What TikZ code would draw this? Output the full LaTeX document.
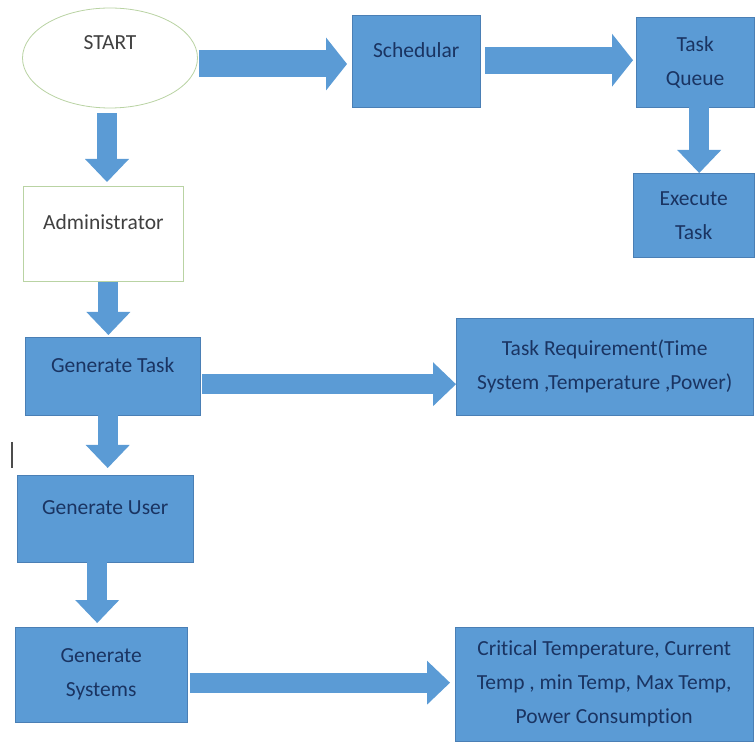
\documentclass[tikz,border=0pt]{standalone}
\usepackage{fontspec}
\setmainfont{Carlito}[Ligatures={NoCommon}]
\usetikzlibrary{arrows.meta,calc,shapes.geometric}
\definecolor{boxbl}{HTML}{5B9BD5}
\definecolor{boxln}{HTML}{4A7FB5}
\definecolor{txt}{HTML}{1A3462}
\definecolor{pale}{HTML}{B9D3A3}
\tikzset{
  blk/.style  ={draw=boxln, fill=boxbl, rectangle, align=center, inner sep=3pt,
                text=txt, font=\fontsize{21.5}{34}\selectfont, anchor=north west},
  blkw/.style ={blk, draw=pale, line width=0.8pt, fill=white, text=black!75},
  hi/.style   ={text depth=23pt},
  barr/.style ={draw=boxbl, line width=20pt,
                -{Triangle[length=23pt, width=44pt, line width=0pt]}},
  barrw/.style={barr, line width=27pt,
                -{Triangle[length=21pt, width=53pt, line width=0pt]}},
}
\begin{document}
\begin{tikzpicture}[x=1pt,y=-1pt]
\useasboundingbox (0,0) rectangle (756,743);
% top row
\node[draw=pale, line width=0.8pt, fill=white, ellipse, minimum width=175pt,
  minimum height=100pt, text=black!75, text depth=31pt,
  font=\fontsize{21.5}{34}\selectfont] (start) at (110,58) {START};
\node[blk, hi, minimum width=128pt, minimum height=92pt] (sched) at (352,15) {Schedular};
\node[blk, minimum width=118pt, minimum height=90pt] (queue) at (636,17) {Task\\Queue};
\node[blk, minimum width=121pt, minimum height=84pt] (exec) at (633,173) {Execute\\Task};
% left column
\node[blkw, hi, minimum width=160pt, minimum height=95pt] (admin) at (23,186) {Administrator};
\node[blk, hi, minimum width=175pt, minimum height=78pt] (gtask) at (25,337) {Generate Task};
\node[blk, hi, minimum width=176pt, minimum height=87pt] (guser) at (17,475) {Generate User};
\node[blk, minimum width=172pt, minimum height=95pt] (gsys) at (15,627) {Generate\\Systems};
% right column
\node[blk, minimum width=297pt, minimum height=97pt] (treq) at (456,318)
  {Task Requirement(Time\\System ,Temperature ,Power)};
\node[blk, minimum width=298pt, minimum height=114pt] (crit) at (455,627)
  {Critical Temperature, Current\\Temp , min Temp, Max Temp,\\Power Consumption};
% block arrows
\draw[barrw] ($(start.east)+(1,6)$) -- ($(start.east -| sched.west)+(-5,6)$);
\draw[barrw] ($(sched.east)+(5,-1)$) -- ($(sched.east -| queue.west)+(-3,-1)$);
\draw[barr] ($(queue.south)+(4,0)$) -- ($(queue.south |- exec.north)+(4,0)$);
\draw[barr] ($(start.south)+(-3,5)$) -- ($(start.south |- admin.north)+(-3,-4)$);
\draw[barr] ($(admin.south)+(5,0)$) -- ($(admin.south |- gtask.north)+(5,-2)$);
\draw[barr] ($(gtask.east)+(2,8)$) -- ($(gtask.east -| treq.west)+(0,8)$);
\draw[barr] ($(gtask.south)+(-5,0)$) -- ($(gtask.south |- guser.north)+(-5,-7)$);
\draw[barr] ($(guser.south)+(-8,0)$) -- ($(guser.south |- gsys.north)+(-8,-4)$);
\draw[barr] ($(gsys.east)+(3,8)$) -- ($(gsys.east -| crit.west)+(-5,8)$);
% stray mark at left
\draw[black!70, line width=2.5pt] (12,442) -- (12,468);
\end{tikzpicture}
\end{document}
